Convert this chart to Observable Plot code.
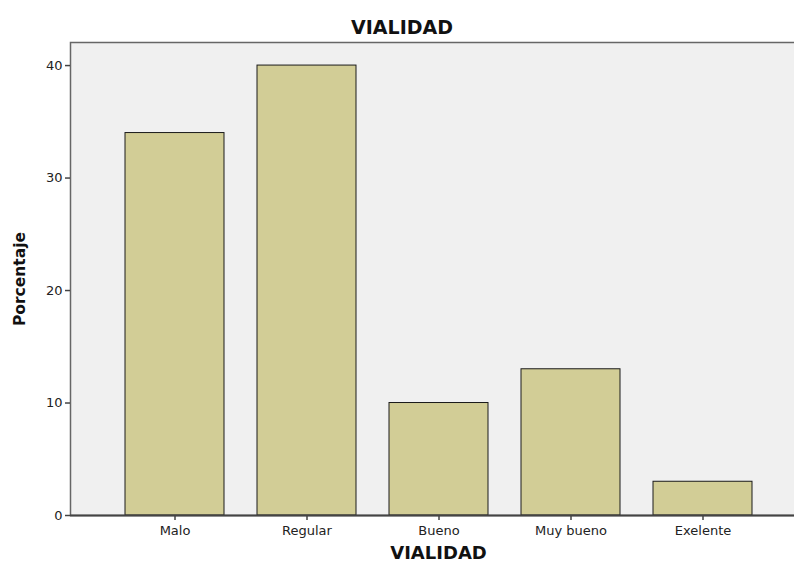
<!DOCTYPE html>
<html>
<head>
<meta charset="utf-8">
<script src="https://cdn.jsdelivr.net/npm/d3@7"></script>
<script src="https://cdn.jsdelivr.net/npm/@observablehq/plot@0.6"></script>
<style>
  html, body { margin: 0; padding: 0; background: #fff; overflow: hidden; width: 794px; height: 563px; }
  #title { height: 41px; width: 794px; text-align: center; font-family: "DejaVu Sans", sans-serif; font-weight: bold; font-size: 19px; line-height: 55px; color: #111; padding-left: 10px; box-sizing: border-box; }
  svg { overflow: hidden; }
</style>
</head>
<body>
<div id="title">VIALIDAD</div>
<div id="chart"></div>
<script>
const categories = ["Malo", "Regular", "Bueno", "Muy bueno", "Exelente"];
const percentages = [34, 40, 10, 13, 3];
const yTicks = [0, 10, 20, 30, 40];

const data = categories.map((c, i) => ({category: c, value: percentages[i]}));

const chart = Plot.plot({
  width: 794,
  height: 522,
  marginTop: 1,
  marginBottom: 48,
  marginLeft: 70,
  marginRight: -12,
  style: {fontFamily: "DejaVu Sans, sans-serif", fontSize: "13px", color: "#222", background: "white"},
  x: {type: "band", domain: categories, paddingInner: 0.253, paddingOuter: 0.404, label: null},
  y: {domain: [0, 42.05], label: null},
  marks: [
    Plot.frame({fill: "#f0f0f0", stroke: "#666", strokeWidth: 1.5}),
    Plot.barY(data, {x: "category", y: "value", fill: "#d2cd96", stroke: "#1a1a1a", strokeWidth: 1}),
    Plot.axisY({ticks: yTicks, tickSize: 5, tickPadding: 3, stroke: "#444", strokeWidth: 1.5, label: null, fontSize: 13}),
    Plot.axisX({tickSize: 5, tickPadding: 5, stroke: "#444", strokeWidth: 1.5, label: null, fontSize: 13}),
    Plot.ruleY([0], {stroke: "#444", strokeWidth: 2}),
    Plot.text(["Porcentaje"], {frameAnchor: "left", textAnchor: "middle", rotate: -90, dx: -50, fontWeight: "bold", fontSize: 15.5, fill: "#111"}),
    Plot.text(["VIALIDAD"], {frameAnchor: "bottom", dy: 43, fontWeight: "bold", fontSize: 18, fill: "#111"})
  ]
});
document.getElementById("chart").appendChild(chart);
</script>
</body>
</html>
